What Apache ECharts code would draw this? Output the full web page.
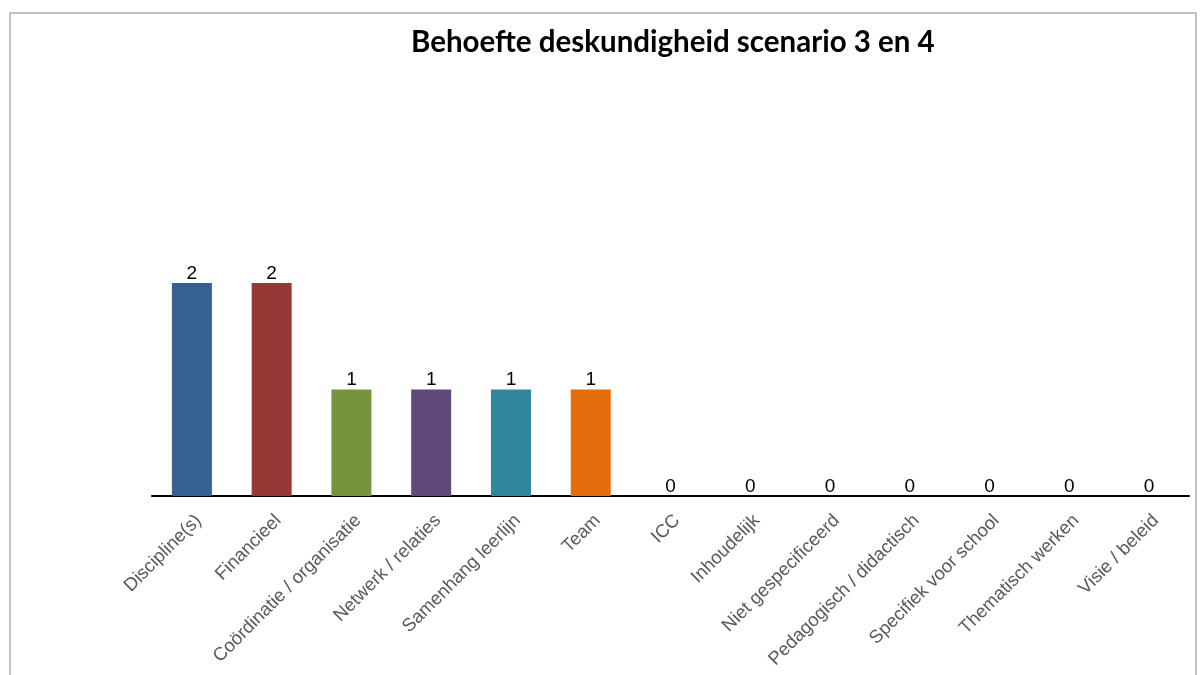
<!DOCTYPE html>
<html lang="nl">
<head>
<meta charset="UTF-8">
<title>Behoefte deskundigheid scenario 3 en 4</title>
<style>
  html, body { margin: 0; padding: 0; background: #fff; }
  #chart { width: 1200px; height: 675px; }
  .frame { position: absolute; left: 9px; top: 12px; width: 1188px; height: 700px; border: 2px solid #c3c3c3; box-sizing: border-box; pointer-events: none; }
</style>
</head>
<body>
<div id="chart"></div>
<div class="frame"></div>
<script src="https://cdn.jsdelivr.net/npm/echarts@6/dist/echarts.min.js"></script>
<script>
var categories = ['Discipline(s)', 'Financieel', 'Coördinatie / organisatie', 'Netwerk / relaties', 'Samenhang leerlijn', 'Team', 'ICC', 'Inhoudelijk', 'Niet gespecificeerd', 'Pedagogisch / didactisch', 'Specifiek voor school', 'Thematisch werken', 'Visie / beleid'];
var values = [2, 2, 1, 1, 1, 1, 0, 0, 0, 0, 0, 0, 0];
var barColors = ['#36608f', '#953735', '#77933c', '#604a7b', '#31859c', '#e46c0a', '#4f81bd', '#4f81bd', '#4f81bd', '#4f81bd', '#4f81bd', '#4f81bd', '#4f81bd'];

var chart = echarts.init(document.getElementById('chart'));
var option = {
  animation: false,
  title: {
    text: 'Behoefte deskundigheid scenario 3 en 4',
    left: 406,
    top: 22,
    textStyle: {
      fontFamily: 'Lato',
      fontWeight: 'bold',
      fontSize: 29.5,
      color: '#000'
    }
  },
  grid: {
    left: 152,
    right: 11,
    top: 70,
    bottom: 179
  },
  xAxis: {
    type: 'category',
    data: categories,
    axisLine: { lineStyle: { color: '#000', width: 2 } },
    axisTick: { show: false },
    axisLabel: {
      rotate: 45,
      interval: 0,
      margin: 15,
      verticalAlign: 'top',
      color: '#595959',
      fontFamily: 'Liberation Sans',
      fontSize: 18.5
    }
  },
  yAxis: {
    type: 'value',
    min: 0,
    max: 4,
    interval: 1,
    show: false
  },
  series: [{
    type: 'bar',
    barWidth: 40,
    data: values.map(function (v, i) {
      return { value: v, itemStyle: { color: barColors[i] } };
    }),
    label: {
      show: true,
      position: 'top',
      distance: 0,
      color: '#000',
      fontFamily: 'Liberation Sans',
      fontSize: 19
    }
  }]
};
chart.setOption(option);
</script>
</body>
</html>
